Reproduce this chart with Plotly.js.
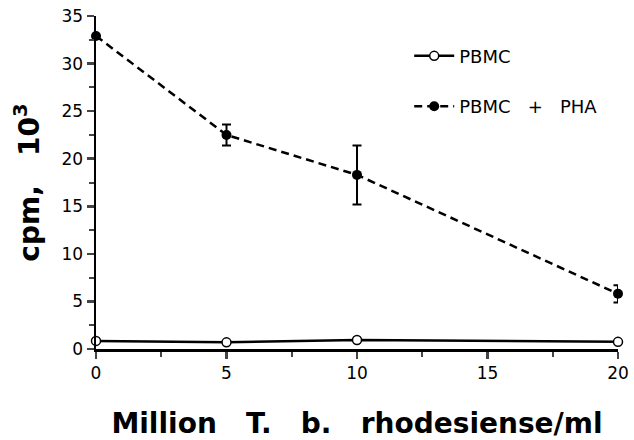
<!DOCTYPE html>
<html><head><meta charset="utf-8">
<script src="https://cdn.plot.ly/plotly-3.0.1.min.js"></script>
<style>html,body{margin:0;padding:0;background:#fff}#chart{width:634px;height:440px}</style>
</head><body><div id="chart"></div>
<script>
const doses = [0, 5, 10, 20];
const pbmc = [0.85, 0.7, 0.95, 0.75];
const pbmcPha = [32.9, 22.5, 18.3, 5.8];
const pbmcPhaErr = [0, 1.1, 3.1, 0.9];
const seriesNames = ['PBMC', 'PBMC\u00a0\u00a0\u00a0+\u00a0\u00a0\u00a0PHA'];
const xTicks = [0, 5, 10, 15, 20];
const yTicks = [0, 5, 10, 15, 20, 25, 30, 35];
const sp = '\u00a0\u00a0\u00a0';

const traces = [
  {x: doses, y: pbmc, name: seriesNames[0], type: 'scatter', mode: 'lines+markers', cliponaxis: false,
   legendgroup: 'a',
   line: {color: '#000', width: 2.5, dash: 'solid'},
   marker: {symbol: 'circle', size: 9, color: '#fff', line: {color: '#000', width: 1.5}}},
  {x: doses, y: pbmcPha, name: seriesNames[1], type: 'scatter', mode: 'lines+markers', cliponaxis: false,
   legendgroup: 'b',
   error_y: {type: 'data', array: pbmcPhaErr, visible: true, color: '#000', thickness: 2, width: 4.5},
   line: {color: '#000', width: 2.5, dash: '8px,5px'},
   marker: {symbol: 'circle', size: 10, color: '#000'}}
];

const tickFont = {size: 17, family: 'DejaVu Sans, sans-serif', color: '#000'};
const titleFont = {size: 28, family: 'DejaVu Sans, sans-serif', weight: 'bold', color: '#000'};

const layout = {
  width: 634, height: 440,
  margin: {l: 96, r: 16, t: 16, b: 91},
  paper_bgcolor: '#fff', plot_bgcolor: '#fff',
  font: {family: 'DejaVu Sans, sans-serif', color: '#000'},
  showlegend: true,
  legend: {x: 0.6, y: 0.935, xanchor: 'left', yanchor: 'top', bgcolor: 'rgba(0,0,0,0)', itemwidth: 40,
           font: {size: 18, family: 'DejaVu Sans, sans-serif'}, tracegroupgap: 24, traceorder: 'grouped'},
  xaxis: {range: [0, 20], tickvals: xTicks, ticktext: xTicks.map(String), ticks: 'outside', ticklen: 7, tickwidth: 2.5,
          showline: true, linewidth: 2.5, linecolor: '#000', showgrid: false, zeroline: false,
          tickfont: tickFont,
          minor: {dtick: 2.5, ticks: 'outside', ticklen: 5, tickwidth: 2, showgrid: false},
          title: {text: 'Million' + sp + 'T.' + sp + 'b.' + sp + 'rhodesiense/ml', standoff: 36, font: titleFont}},
  yaxis: {range: [0, 35], tickvals: yTicks, ticktext: yTicks.map(String), ticks: 'outside', ticklen: 7, tickwidth: 2.5,
          showline: true, linewidth: 2.5, linecolor: '#000', showgrid: false, zeroline: false,
          tickfont: tickFont,
          minor: {dtick: 2.5, ticks: 'outside', ticklen: 5, tickwidth: 2, showgrid: false},
          title: {text: 'cpm,' + sp + '10<sup>3</sup>', standoff: 14, font: titleFont}}
};
Plotly.newPlot('chart', traces, layout, {displayModeBar: false, staticPlot: true});
</script></body></html>
